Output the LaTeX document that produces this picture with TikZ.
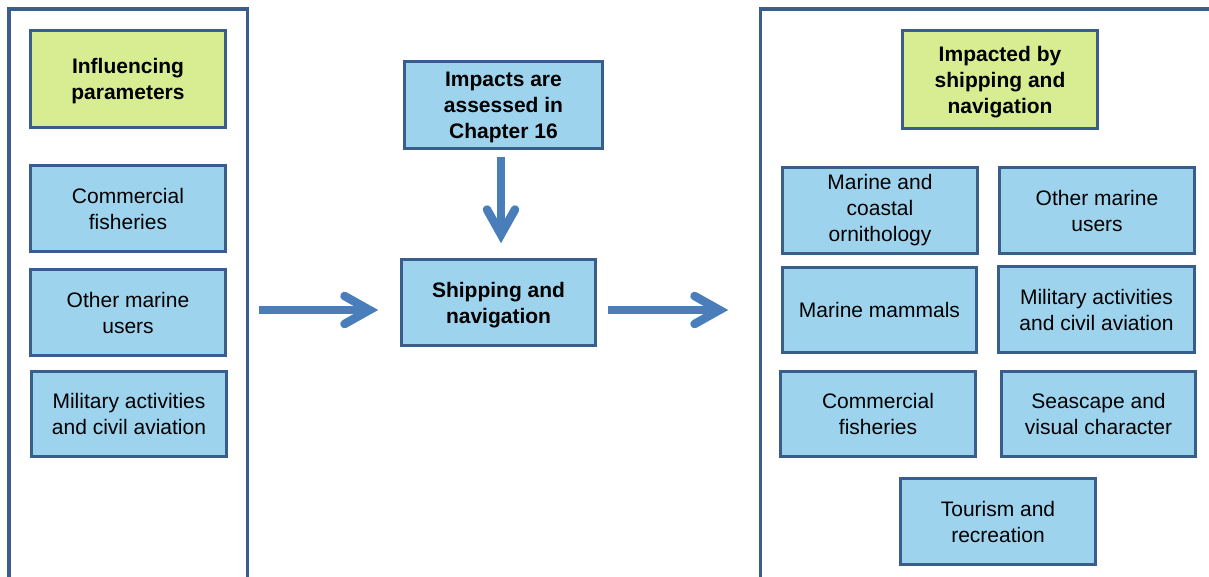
\documentclass[tikz,border=0pt]{standalone}
\usepackage{fontspec}
\setmainfont{Liberation Sans}
\usetikzlibrary{calc}
\definecolor{boxblue}{RGB}{158,211,237}
\definecolor{boxgreen}{RGB}{216,236,145}
\definecolor{edgeblue}{RGB}{58,94,140}
\definecolor{flowblue}{RGB}{74,126,187}
\tikzset{
  panel/.style={draw=edgeblue, line width=3.5pt, fill=none, outer sep=0pt,
    inner sep=0pt, anchor=north west},
  item/.style={draw=edgeblue, line width=3pt, fill=boxblue, align=center,
    inner sep=0pt, outer sep=0pt, text=black,
    font=\fontsize{21}{26}\selectfont},
  % bold labels sit a little lower in their boxes
  boldtext/.style={font=\fontsize{21}{26}\selectfont\bfseries,
    text depth=-1.5pt},
  title/.style={item, fill=boxgreen, boldtext},
  keyitem/.style={item, boldtext},
  sz/.style 2 args={minimum width=#1pt, minimum height=#2pt},
  flow/.style={draw=flowblue, line width=8.5pt, line cap=butt},
  flowhead/.style={draw=flowblue, line width=8.5pt, line cap=round, line join=miter}
}
\begin{document}
\begin{tikzpicture}[x=1pt, y=-1pt]
\clip (0,0) rectangle (1209,576);
\fill[white] (0,0) rectangle (1209,576);

% side panels (their lower edges run off the page)
\node[panel, minimum width=238.5pt, minimum height=700pt] (lpanel) at (9,9) {};
\node[panel, minimum width=500pt, minimum height=700pt] (rpanel) at (760.3,9) {};

% left column: influencing parameters
\node[title, sz={195}{97}] (infl) at (128,79) {Influencing\\parameters};
\node[item, sz={195}{86}] (lfish) at (128,208.5) {Commercial\\fisheries};
\node[item, sz={195}{86}] (lusers) at (128,312.5) {Other marine\\users};
\node[item, sz={195}{85}] (lmil) at (129,414) {Military activities\\and civil aviation};

% centre column
\node[keyitem, sz={198}{87}] (chap) at (503.5,105) {Impacts are\\assessed in\\Chapter 16};
\node[keyitem, sz={194}{86}] (ship) at (498.5,302.5) {Shipping and\\navigation};

% right column: receptors
\node[title, sz={195}{98}] (impd) at (1000,79.5) {Impacted by\\shipping and\\navigation};
\node[item, sz={195}{86}] (orni) at (880,210.5) {Marine and\\coastal\\ornithology};
\node[item, sz={195}{86}] (rusers) at (1097,210.5) {Other marine\\users};
\node[item, sz={194}{85}] (mamm) at (879.5,310) {Marine mammals};
\node[item, sz={196}{86}] (rmil) at (1096.5,309.5) {Military activities\\and civil aviation};
\node[item, sz={195}{85}] (rfish) at (878,414) {Commercial\\fisheries};
\node[item, sz={194}{85}] (seas) at (1098.5,414) {Seascape and\\visual character};
\node[item, sz={195}{86}] (tour) at (998,521.5) {Tourism and\\recreation};

% arrow end points
\coordinate (inS) at (259,310);
\coordinate (inE) at (369.5,310);
\coordinate (outS) at (608,310);
\coordinate (outE) at (719.5,310);
\coordinate (dnS) at (501,157);
\coordinate (dnE) at (501,234.5);

% block arrows
\draw[flow] (inS) -- (inE);
\draw[flowhead] ($(inE)+(-25,-14)$) -- (inE) -- ($(inE)+(-25,14)$);
\draw[flow] (outS) -- (outE);
\draw[flowhead] ($(outE)+(-25,-14)$) -- (outE) -- ($(outE)+(-25,14)$);
\draw[flow] (dnS) -- (dnE);
\draw[flowhead] ($(dnE)+(-14,-25)$) -- (dnE) -- ($(dnE)+(14,-25)$);
\end{tikzpicture}
\end{document}
